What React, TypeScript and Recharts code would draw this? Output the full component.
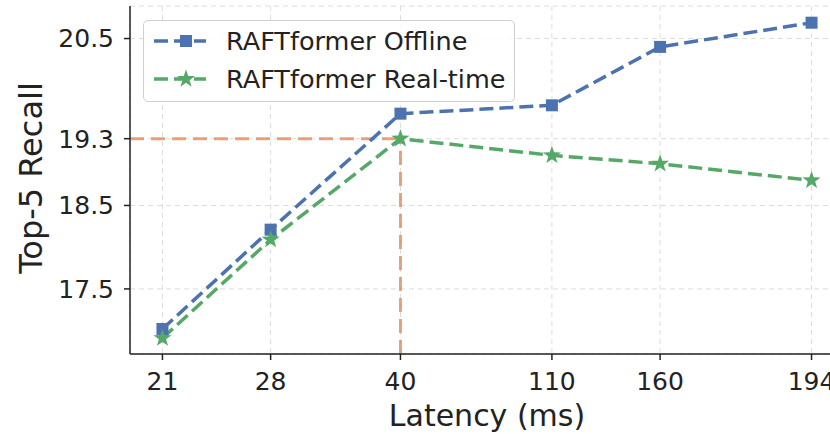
import React from 'react';
import { LineChart, Line, XAxis, YAxis, CartesianGrid, ReferenceLine, Label } from 'recharts';

// ---- data ----
const latencyLabels = ['21', '28', '40', '110', '160', '194'];
const xPositions = [0, 5, 11, 18, 23, 30];
const offlineRecall = [17.02, 18.21, 19.6, 19.7, 20.4, 20.69];
const realtimeRecall = [16.91, 18.09, 19.3, 19.1, 19.0, 18.8];
const yTicks = [17.5, 18.5, 19.3, 20.5];
const seriesNames = ['RAFTformer Offline', 'RAFTformer Real-time'];
const highlightIndex = 2;
const xDomain = [-1.5, 31.5];
const yDomain = [16.72, 20.89];

const data = xPositions.map((p, i) => ({
  pos: p,
  latency: latencyLabels[i],
  offline: offlineRecall[i],
  realtime: realtimeRecall[i],
}));

const FONT = 'DejaVu Sans, sans-serif';
const BLUE = '#4c72b0';
const GREEN = '#55a868';
const ORANGE = '#dd8452';
const AXIS = '#222';

const starPoints = (cx: number, cy: number, R: number) => {
  const pts: string[] = [];
  for (let k = 0; k < 10; k++) {
    const r = k % 2 === 0 ? R : R * 0.4;
    const a = -Math.PI / 2 + (k * Math.PI) / 5;
    pts.push(`${cx + r * Math.cos(a)},${cy + r * Math.sin(a)}`);
  }
  return pts.join(' ');
};

const SquareDot = (props: any) => {
  const { cx, cy } = props;
  if (cx == null || cy == null) return null;
  return <rect x={cx - 6} y={cy - 6} width={12} height={12} fill={BLUE} />;
};

const StarDot = (props: any) => {
  const { cx, cy } = props;
  if (cx == null || cy == null) return null;
  return <polygon points={starPoints(cx, cy, 9.5)} fill={GREEN} />;
};

const tickLabel = (v: number) => {
  const i = xPositions.indexOf(v);
  return i >= 0 ? latencyLabels[i] : '';
};

const YLabel = (props: any) => {
  const vb = props.viewBox || {};
  const x = (vb.x || 0) + 31;
  const y = (vb.y || 0) + (vb.height || 0) / 2 - 2;
  return (
    <text
      x={x}
      y={y}
      transform={`rotate(-90, ${x}, ${y})`}
      textAnchor="middle"
      dominantBaseline="central"
      fontSize={32}
      fontFamily={FONT}
      fill={AXIS}
    >
      Top-5 Recall
    </text>
  );
};

const LegendBox = () => (
  <div
    style={{
      position: 'absolute',
      left: 143,
      top: 20,
      width: 372,
      height: 82,
      border: '1px solid #d0d0d0',
      borderRadius: 5,
      background: 'rgba(255,255,255,0.85)',
      fontFamily: FONT,
      fontSize: 25.5,
      color: AXIS,
      boxSizing: 'border-box',
    }}
  >
    {seriesNames.map((name, i) => (
      <div
        key={name}
        style={{
          position: 'absolute',
          left: 0,
          top: i === 0 ? 1 : 39,
          height: 38,
          display: 'flex',
          alignItems: 'center',
          whiteSpace: 'nowrap',
        }}
      >
        <svg width={72} height={38} style={{ marginLeft: 10 }}>
          <line x1={0} y1={19} x2={52} y2={19} stroke={i === 0 ? BLUE : GREEN} strokeWidth={3.5} strokeDasharray="14 6" />
          {i === 0 ? (
            <rect x={26} y={13} width={12} height={12} fill={BLUE} />
          ) : (
            <polygon points={starPoints(32, 19, 9.5)} fill={GREEN} />
          )}
        </svg>
        <span style={{ marginLeft: 0 }}>{name}</span>
      </div>
    ))}
  </div>
);

export default function App() {
  return (
    <div style={{ position: 'absolute', left: 0, top: 0, width: 830, height: 434, overflow: 'hidden', background: '#fff' }}>
      <LineChart
        width={850}
        height={434}
        data={data}
        margin={{ top: 6, right: 6, bottom: 0, left: 0 }}
      >
        <CartesianGrid stroke="#dcdcdc" strokeDasharray="5 4" strokeWidth={1} />
        <XAxis
          xAxisId="top"
          orientation="top"
          dataKey="pos"
          type="number"
          domain={xDomain}
          height={0}
          tick={false}
          tickLine={false}
          axisLine={{ stroke: AXIS, strokeWidth: 1.5 }}
        />
        <XAxis
          dataKey="pos"
          type="number"
          domain={xDomain}
          ticks={xPositions}
          tickFormatter={tickLabel}
          height={80}
          tickSize={6}
          tickMargin={12}
          tick={{ fill: AXIS, fontSize: 25, fontFamily: FONT }}
          axisLine={{ stroke: AXIS, strokeWidth: 1.5 }}
          tickLine={{ stroke: AXIS, strokeWidth: 1.5 }}
          allowDataOverflow
        >
          <Label
            value="Latency (ms)"
            position="insideBottom"
            offset={8}
            style={{ fontSize: 30, fontFamily: FONT, fill: AXIS }}
          />
        </XAxis>
        <YAxis
          type="number"
          domain={yDomain}
          ticks={yTicks}
          tickFormatter={(v: number) => v.toFixed(1)}
          width={130}
          tickSize={6}
          tickMargin={10}
          tick={{ fill: AXIS, fontSize: 25, fontFamily: FONT }}
          axisLine={{ stroke: AXIS, strokeWidth: 1.5 }}
          tickLine={{ stroke: AXIS, strokeWidth: 1.5 }}
          allowDataOverflow
        >
          <Label content={<YLabel />} />
        </YAxis>
        <ReferenceLine
          segment={[
            { x: xDomain[0], y: realtimeRecall[highlightIndex] },
            { x: xPositions[highlightIndex], y: realtimeRecall[highlightIndex] },
          ]}
          stroke={ORANGE}
          strokeOpacity={0.75}
          strokeWidth={3}
          strokeDasharray="14 7"
          ifOverflow="visible"
        />
        <ReferenceLine
          segment={[
            { x: xPositions[highlightIndex], y: yDomain[0] },
            { x: xPositions[highlightIndex], y: realtimeRecall[highlightIndex] },
          ]}
          stroke={ORANGE}
          strokeOpacity={0.75}
          strokeWidth={3}
          strokeDasharray="14 7"
          ifOverflow="visible"
        />
        <Line
          type="linear"
          dataKey="offline"
          name={seriesNames[0]}
          stroke={BLUE}
          strokeWidth={3.5}
          strokeDasharray="14 6"
          dot={<SquareDot />}
          activeDot={false}
          isAnimationActive={false}
        />
        <Line
          type="linear"
          dataKey="realtime"
          name={seriesNames[1]}
          stroke={GREEN}
          strokeWidth={3.5}
          strokeDasharray="14 6"
          dot={<StarDot />}
          activeDot={false}
          isAnimationActive={false}
        />
      </LineChart>
      <LegendBox />
    </div>
  );
}
